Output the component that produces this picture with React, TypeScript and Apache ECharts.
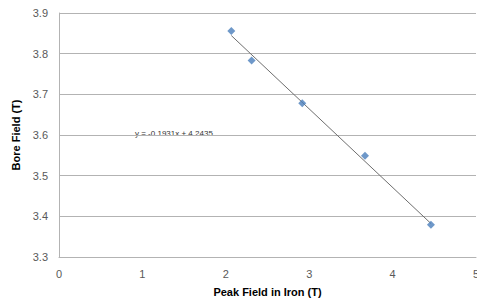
import React, { useEffect, useRef } from "react";
import * as echarts from "echarts";

const peakField = [2.066, 2.31, 2.917, 3.669, 4.46];
const boreField = [3.856, 3.783, 3.678, 3.549, 3.379];
const trendSlope = -0.1931;
const trendIntercept = 4.2435;
const equationLabel = "y = -0.1931x + 4.2435";
const xAxisTitle = "Peak Field in Iron (T)";
const yAxisTitle = "Bore Field (T)";

export default function App() {
  const ref = useRef<HTMLDivElement>(null);
  useEffect(() => {
    if (!ref.current) return;
    const chart = echarts.init(ref.current, undefined, { renderer: "svg" });
    const xMin = Math.min(...peakField);
    const xMax = Math.max(...peakField);
    const trend = [
      [xMin, trendSlope * xMin + trendIntercept],
      [xMax, trendSlope * xMax + trendIntercept],
    ];
    const font = "'Liberation Sans', Arial, sans-serif";
    chart.setOption({
      animation: false,
      backgroundColor: "#ffffff",
      grid: {
        left: 59,
        right: 1,
        top: 13,
        bottom: 48,
        containLabel: false,
        outerBoundsMode: "none",
      },
      xAxis: {
        type: "value",
        min: 0,
        max: 5,
        interval: 1,
        name: xAxisTitle,
        nameLocation: "middle",
        nameGap: 29,
        nameTextStyle: { fontFamily: font, fontSize: 11, fontWeight: "bold", color: "#000" },
        axisLine: { show: true, lineStyle: { color: "#b3b3b3", width: 1 } },
        axisTick: { show: false },
        splitLine: { show: false },
        axisLabel: { fontFamily: font, fontSize: 11, color: "#595959", margin: 11, hideOverlap: false },
      },
      yAxis: {
        type: "value",
        min: 3.3,
        max: 3.9,
        interval: 0.1,
        name: yAxisTitle,
        nameLocation: "middle",
        nameGap: 38,
        nameTextStyle: { fontFamily: font, fontSize: 11, fontWeight: "bold", color: "#000" },
        axisLine: { show: true, lineStyle: { color: "#b3b3b3", width: 1 } },
        axisTick: { show: false },
        splitLine: { show: true, lineStyle: { color: "#b3b3b3", width: 1 } },
        axisLabel: {
          fontFamily: font,
          fontSize: 11,
          color: "#595959",
          margin: 11,
          formatter: (v: number) => v.toFixed(1),
        },
      },
      series: [
        {
          type: "line",
          data: trend,
          symbol: "none",
          lineStyle: { color: "#6e6e6e", width: 1 },
          silent: true,
          z: 2,
        },
        {
          type: "scatter",
          data: peakField.map((x, i) => [x, boreField[i]]),
          symbol: "diamond",
          symbolSize: 8,
          itemStyle: { color: "#4a7ebb" },
          z: 3,
        },
      ],
      graphic: [
        {
          type: "text",
          left: 135,
          top: 129,
          style: { text: equationLabel, fontFamily: font, fontSize: 8, fill: "#333333" },
        },
      ],
    });
    return () => chart.dispose();
  }, []);
  return (
    <div
      ref={ref}
      style={{ position: "fixed", left: 0, top: 0, width: 477, height: 305 }}
    />
  );
}
